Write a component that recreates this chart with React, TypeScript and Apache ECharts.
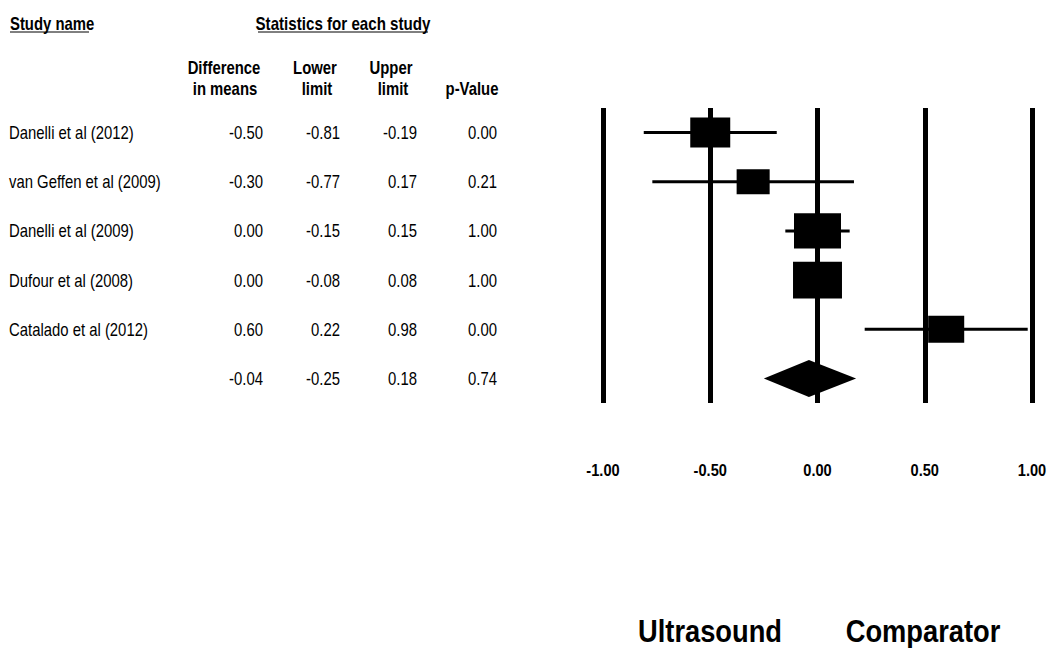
import React, { useEffect, useRef } from "react";
import * as echarts from "echarts";

const studies = [
  "Danelli et al (2012)",
  "van Geffen et al (2009)",
  "Danelli et al (2009)",
  "Dufour et al (2008)",
  "Catalado et al (2012)",
];
const diffMeans = [-0.5, -0.3, 0.0, 0.0, 0.6];
const lowerLimits = [-0.81, -0.77, -0.15, -0.08, 0.22];
const upperLimits = [-0.19, 0.17, 0.15, 0.08, 0.98];
const pValues = [0.0, 0.21, 1.0, 1.0, 0.0];
const weights = [18.6, 12.7, 25.7, 27.9, 15.1];
const summaryMean = -0.04;
const summaryLower = -0.25;
const summaryUpper = 0.18;
const summaryP = 0.74;
const xTicks = [-1, -0.5, 0, 0.5, 1];
const leftLabel = "Ultrasound";
const rightLabel = "Comparator";

const FONT = "'Liberation Sans', Arial, sans-serif";
const NARROW = 0.85;

const GRID_TOP = 108;
const GRID_H = 295;
const NROWS = 6;
const rowY = (i: number) => GRID_TOP + ((i + 0.5) * GRID_H) / NROWS;

export default function App() {
  const ref = useRef<HTMLDivElement>(null);
  useEffect(() => {
    if (!ref.current) return;
    const chart = echarts.init(ref.current, undefined, { renderer: "svg" });
    const fmt = (v: number) => v.toFixed(2);
    const txt = (
      text: string,
      x: number,
      y: number,
      align: string,
      size = 17.5,
      weight: string = "normal",
      sx: number = NARROW
    ) => ({
      type: "text",
      x,
      y,
      scaleX: sx,
      silent: true,
      style: {
        text,
        fill: "#000",
        font: `${weight} ${size}px ${FONT}`,
        align,
        verticalAlign: "middle",
      },
    });

    const studyData = diffMeans.map((m, i) => [m, lowerLimits[i], upperLimits[i], i, weights[i]]);

    chart.setOption({
      animation: false,
      grid: { left: 603, right: 16, top: GRID_TOP, height: GRID_H },
      xAxis: {
        type: "value",
        min: xTicks[0],
        max: xTicks[xTicks.length - 1],
        interval: xTicks[1] - xTicks[0],
        axisLine: { show: false },
        axisTick: { show: false },
        splitLine: { show: true, lineStyle: { color: "#000", width: 5 } },
        axisLabel: { show: false },
      },
      yAxis: {
        type: "value",
        min: -0.5,
        max: 5.5,
        inverse: true,
        show: false,
        splitLine: { show: false },
      },
      series: [
        {
          type: "custom",
          data: studyData,
          encode: { x: [0, 1, 2], y: 3 },
          renderItem: (params: any, api: any) => {
            const m = api.value(0);
            const lo = api.value(1);
            const hi = api.value(2);
            const row = api.value(3);
            const w = api.value(4);
            const pl = api.coord([lo, row]);
            const ph = api.coord([hi, row]);
            const pm = api.coord([m, row]);
            const bw = 9.27 * Math.sqrt(w);
            const bh = bw * 0.75;
            return {
              type: "group",
              children: [
                {
                  type: "line",
                  shape: { x1: pl[0], y1: pl[1], x2: ph[0], y2: ph[1] },
                  style: { stroke: "#000", lineWidth: 3 },
                },
                {
                  type: "rect",
                  shape: { x: pm[0] - bw / 2, y: pm[1] - bh / 2, width: bw, height: bh },
                  style: { fill: "#000" },
                },
              ],
            };
          },
        },
        {
          type: "custom",
          data: [[summaryMean, summaryLower, summaryUpper, 5]],
          encode: { x: [0, 1, 2], y: 3 },
          renderItem: (params: any, api: any) => {
            const pm = api.coord([api.value(0), api.value(3)]);
            const pl = api.coord([api.value(1), api.value(3)]);
            const ph = api.coord([api.value(2), api.value(3)]);
            const hh = 18.5;
            return {
              type: "polygon",
              shape: {
                points: [
                  [pl[0], pl[1]],
                  [pm[0], pm[1] - hh],
                  [ph[0], ph[1]],
                  [pm[0], pm[1] + hh],
                ],
              },
              style: { fill: "#000" },
            };
          },
        },
      ],
    });

    const graphic: any[] = [];
    graphic.push(txt("Study name", 10, 24, "left", 17.5, "bold"));
    graphic.push(txt("Statistics for each study", 343, 24, "center", 17.5, "bold", 0.865));
    graphic.push({
      type: "line",
      shape: { x1: 10, y1: 32, x2: 89, y2: 32 },
      style: { stroke: "#000", lineWidth: 1 },
    });
    graphic.push({
      type: "line",
      shape: { x1: 258, y1: 32, x2: 428, y2: 32 },
      style: { stroke: "#000", lineWidth: 1 },
    });
    graphic.push(txt("Difference", 224, 68, "center", 17.5, "bold"));
    graphic.push(txt("in means", 225, 89, "center", 17.5, "bold"));
    graphic.push(txt("Lower", 315, 68, "center", 17.5, "bold"));
    graphic.push(txt("limit", 317, 89, "center", 17.5, "bold"));
    graphic.push(txt("Upper", 391, 68, "center", 17.5, "bold"));
    graphic.push(txt("limit", 393, 89, "center", 17.5, "bold"));
    graphic.push(txt("p-Value", 472, 89, "center", 17.5, "bold"));

    const colRight = [263, 340, 417, 497];
    studies.forEach((s, i) => {
      const y = rowY(i);
      graphic.push(txt(s, 9, y, "left"));
      graphic.push(txt(fmt(diffMeans[i]), colRight[0], y, "right"));
      graphic.push(txt(fmt(lowerLimits[i]), colRight[1], y, "right"));
      graphic.push(txt(fmt(upperLimits[i]), colRight[2], y, "right"));
      graphic.push(txt(fmt(pValues[i]), colRight[3], y, "right"));
    });
    const sy = rowY(5);
    graphic.push(txt(fmt(summaryMean), colRight[0], sy, "right"));
    graphic.push(txt(fmt(summaryLower), colRight[1], sy, "right"));
    graphic.push(txt(fmt(summaryUpper), colRight[2], sy, "right"));
    graphic.push(txt(fmt(summaryP), colRight[3], sy, "right"));

    xTicks.forEach((t) => {
      const px = chart.convertToPixel({ xAxisIndex: 0 }, t) as number;
      graphic.push(txt(fmt(t), px, 470, "center", 17, "bold", 0.86));
    });

    graphic.push(txt(leftLabel, 710, 631.5, "center", 31, "bold", 0.88));
    graphic.push(txt(rightLabel, 923, 631.5, "center", 31, "bold", 0.88));

    chart.setOption({ graphic });
    return () => chart.dispose();
  }, []);
  return (
    <div
      ref={ref}
      style={{ position: "fixed", left: 0, top: 0, width: 1048, height: 648, background: "#fff" }}
    />
  );
}
